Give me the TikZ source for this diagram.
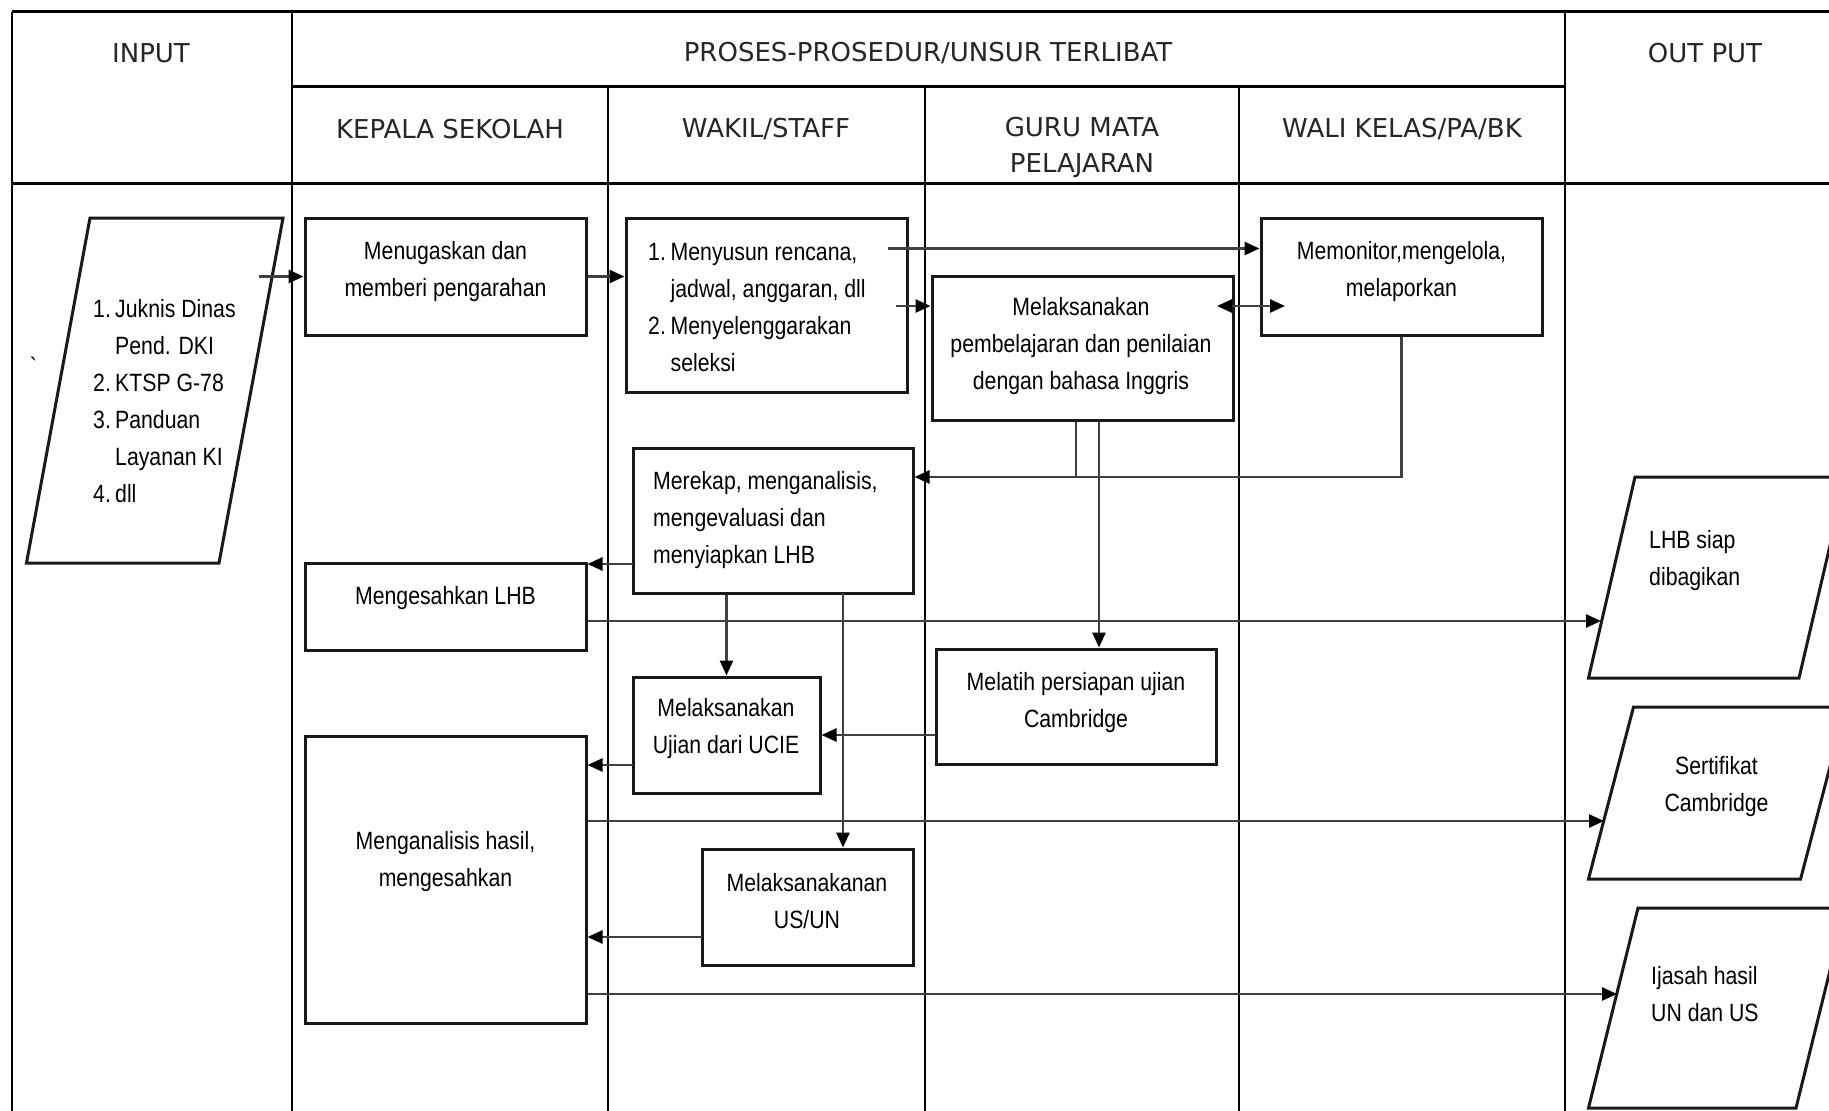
\documentclass[tikz,border=0pt]{standalone}
\usepackage{fontspec}
\setmainfont{Liberation Sans}[FakeStretch=0.85]
\newfontfamily\hdrfont{DejaVu Sans}
\usetikzlibrary{arrows.meta,calc}
\begin{document}
\begin{tikzpicture}[x=1pt,y=-1pt,
  tblv/.style={line width=2.4pt,black},
  tblh/.style={line width=3pt,black},
  box/.style={draw=black!90,line width=3pt,inner sep=0pt,fill=none},
  par/.style={draw=black!90,line width=3pt},
  txt/.style={font=\fontsize{25}{37}\selectfont,inner sep=0pt,align=center},
  txtl/.style={font=\fontsize{25}{37}\selectfont,inner sep=0pt,align=left},
  hdr/.style={font=\hdrfont\fontsize{26}{36}\selectfont,inner sep=0pt,align=center,text=black!85},
  con/.style={line width=2.6pt,black!75},
  arr/.style={con,-{Triangle[length=15pt,width=13pt,color=black]}},
  arrb/.style={con,{Triangle[length=15pt,width=13pt,color=black]}-{Triangle[length=15pt,width=13pt,color=black]}}
]
\useasboundingbox (0,0) rectangle (1829,1111);
\fill[white] (0,0) rectangle (1829,1111);

% ---------- table ----------
\draw[tblh] (11.7,11.7) -- (1829,11.7);
\draw[tblh] (292,86) -- (1565,86);
\draw[tblh] (11.7,183) -- (1829,183);
\draw[tblv] (11.7,11.7) -- (11.7,1111);
\draw[tblv] (292,11.7) -- (292,1111);
\draw[tblv] (608,86) -- (608,1111);
\draw[tblv] (925,86) -- (925,1111);
\draw[tblv] (1239,86) -- (1239,1111);
\draw[tblv] (1565,11.7) -- (1565,1111);

\node[hdr] (hInput) at (151,53) {INPUT};
\node[hdr] (hProses) at (928,53) {PROSES-PROSEDUR/UNSUR TERLIBAT};
\node[hdr] (hOutput) at (1705,53) {OUT PUT};
\node[hdr] (hKepala) at (450,129) {KEPALA SEKOLAH};
\node[hdr] (hWakil) at (766,129) {WAKIL/STAFF};
\node[hdr] (hGuru) at (1082,147) {GURU MATA\\PELAJARAN};
\node[hdr] (hWali) at (1402,129) {WALI KELAS/PA/BK};

% ---------- input ----------
\draw[par] (90,218) -- (283,218) -- (219,563) -- (26.5,563) -- cycle;
\node[txtl,anchor=west] (tInput) at (93,401) {\makebox[22pt][l]{1.}Juknis Dinas\\\hspace*{22pt}Pend. DKI\\\makebox[22pt][l]{2.}KTSP G-78\\\makebox[22pt][l]{3.}Panduan\\\hspace*{22pt}Layanan KI\\\makebox[22pt][l]{4.}dll};
\node[txt] (tick) at (34,366) {\textasciigrave};

% ---------- process boxes ----------
\node[box,minimum width=281pt,minimum height=117pt] (menug) at (445.5,276.5) {};
\node[txt] (tMenug) at (445.5,272) {Menugaskan dan\\memberi pengarahan};

\node[box,minimum width=281pt,minimum height=174pt] (menyus) at (766.5,305) {};
\node[txtl,anchor=west] (tMenyus) at (648,307.5) {\makebox[22.5pt][l]{1.}Menyusun rencana,\\\hspace*{22.5pt}jadwal, anggaran, dll\\\makebox[22.5pt][l]{2.}Menyelenggarakan\\\hspace*{22.5pt}seleksi};

\node[box,minimum width=281pt,minimum height=117pt] (memon) at (1401.5,276.5) {};
\node[txt] (tMemon) at (1401.5,272) {Memonitor,mengelola,\\melaporkan};

\node[box,minimum width=301pt,minimum height=144pt] (melak) at (1082.5,348) {};
\node[txt] (tMelak) at (1081,346) {Melaksanakan\\pembelajaran dan penilaian\\dengan bahasa Inggris};

\node[box,minimum width=280pt,minimum height=145pt] (merekap) at (773,520.5) {};
\node[txtl,anchor=west] (tMerekap) at (653,520) {Merekap, menganalisis,\\mengevaluasi dan\\menyiapkan LHB};

\node[box,minimum width=281pt,minimum height=87pt] (mengLHB) at (445.5,606.5) {};
\node[txt] (tMengLHB) at (445.5,598) {Mengesahkan LHB};

\node[box,minimum width=187pt,minimum height=116pt] (ucie) at (726.5,735) {};
\node[txt] (tUcie) at (726,729) {Melaksanakan\\Ujian dari UCIE};

\node[box,minimum width=280pt,minimum height=115pt] (melatih) at (1076,706.5) {};
\node[txt] (tMelatih) at (1076,703) {Melatih persiapan ujian\\Cambridge};

\node[box,minimum width=281pt,minimum height=287pt] (menganal) at (445.5,879.5) {};
\node[txt] (tMenganal) at (445.5,862) {Menganalisis hasil,\\mengesahkan};

\node[box,minimum width=211pt,minimum height=116pt] (usun) at (807.5,907) {};
\node[txt] (tUsun) at (807,901) {Melaksanakanan\\US/UN};

% ---------- outputs ----------
\draw[par] (1635,477) -- (1846,477) -- (1799,678) -- (1588.5,678) -- cycle;
\node[txtl,anchor=west] (tLhb) at (1649,561) {LHB siap\\dibagikan};
\draw[par] (1633.5,707) -- (1845.6,707) -- (1800.6,879) -- (1588.5,879) -- cycle;
\node[txt] (tSert) at (1716.5,787) {Sertifikat\\Cambridge};
\draw[par] (1638,908) -- (1845.4,908) -- (1796,1108) -- (1588.5,1108) -- cycle;
\node[txtl,anchor=west] (tIjasah) at (1651,994) {Ijasah hasil\\UN dan US};

% ---------- connectors ----------
\coordinate (inR) at (259,276.5);
\draw[arr] (inR) -- (menug.west);
\draw[arr] (menug.east) -- (menug.east -| menyus.west);

\coordinate (s1) at (888,248.5);
\draw[arr] (s1) -- (s1 -| memon.west);
\coordinate (s2) at (896,306);
\draw[arr] (s2) -- (s2 -| melak.west);
\coordinate (d1) at (1217,306);
\coordinate (d2) at (1285,306);
\draw[arrb] (d1) -- (d2);

\coordinate (j1) at (1401.5,477);
\draw[arr] (memon.south) -- (j1) -- (j1 -| merekap.east);
\draw[con] ([xshift=-6.5pt]melak.south) -- ([xshift=-6.5pt]melak.south |- j1);
\draw[arr] ([xshift=16.5pt]melak.south) -- ([xshift=16.5pt]melak.south |- melatih.north);

\coordinate (r1) at (633,564);
\draw[arr] (r1) -- (r1 -| mengLHB.east);
\coordinate (o1) at (1601,621);
\draw[arr] (mengLHB.east |- o1) -- (o1);

\draw[arr] (merekap.south -| ucie.north) -- (ucie.north);
\coordinate (m2) at (843,593);
\draw[arr] (m2) -- (m2 |- usun.north);
\draw[arr] (ucie.east -| melatih.west) -- (ucie.east);

\coordinate (u1) at (633,765);
\draw[arr] (u1) -- (u1 -| menganal.east);
\coordinate (u2) at (702,937);
\draw[arr] (u2) -- (u2 -| menganal.east);

\coordinate (o2) at (1604,821);
\draw[arr] (menganal.east |- o2) -- (o2);
\coordinate (o3) at (1617,994);
\draw[arr] (menganal.east |- o3) -- (o3);
\end{tikzpicture}
\end{document}
